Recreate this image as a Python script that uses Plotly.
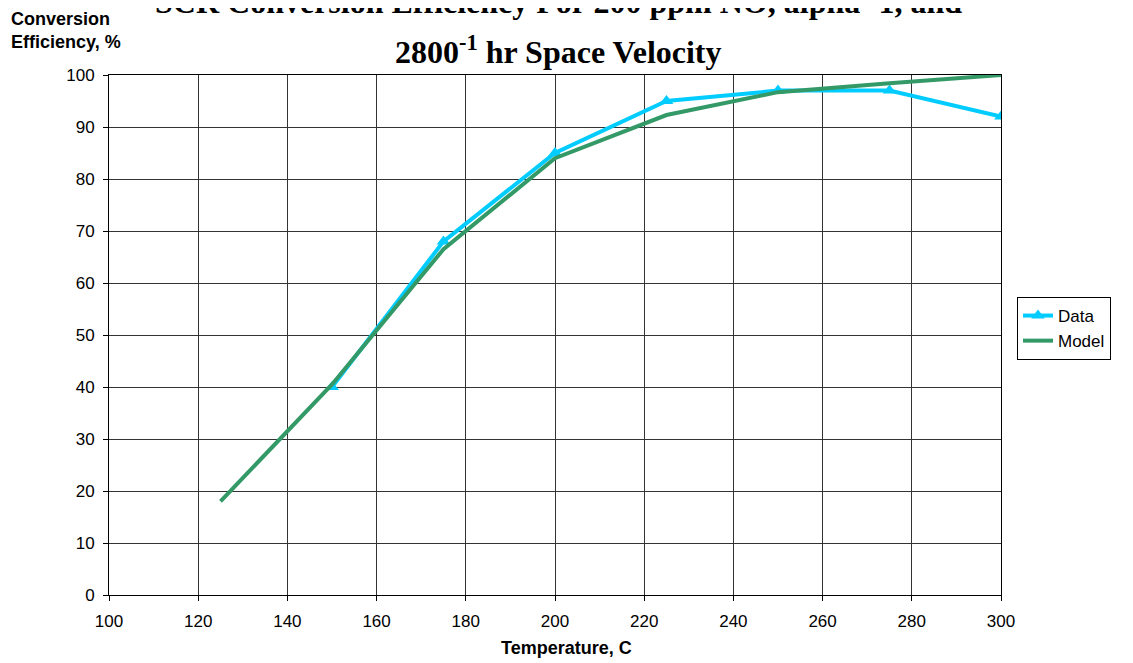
import plotly.graph_objects as go

data_x = [150, 175, 200, 225, 250, 275, 300]
data_y = [40, 68, 85, 95, 97, 97, 92]
model_x = [125, 150, 175, 200, 225, 250, 275, 300]
model_y = [18, 40.5, 66.5, 84, 92.3, 96.7, 98.4, 100]

x_ticks = list(range(100, 301, 20))
y_ticks = list(range(0, 101, 10))

# page offset (body margin) of 8px
OFF = 8
W, H = 1133 - OFF, 663 - OFF
L, R, T, B = 109 - OFF, 132, 75 - OFF, 68
PW, PH = 892, 520


def px(xp):
    return (xp - 109) / PW


def py(yp):
    return (595 - yp) / PH


fig = go.Figure()
fig.add_trace(go.Scatter(x=data_x, y=data_y, name="Data", mode="lines+markers",
                         line=dict(color="#00CCFF", width=4),
                         marker=dict(symbol="triangle-up", size=12, color="#00CCFF")))
fig.add_trace(go.Scatter(x=model_x, y=model_y, name="Model", mode="lines",
                         line=dict(color="#339966", width=4)))

axis_common = dict(showline=True, linecolor="black", linewidth=1, mirror=True,
                   showgrid=True, gridcolor="#333333", gridwidth=1, zeroline=False,
                   ticks="outside", ticklen=5, tickcolor="black",
                   tickfont=dict(family="Arial, Liberation Sans", size=17, color="black"))
fig.update_xaxes(range=[100, 300], tickvals=x_ticks, ticklabelstandoff=6, **axis_common)
fig.update_yaxes(range=[0, 100], tickvals=y_ticks, ticklabelstandoff=5, **axis_common)

fig.update_layout(
    width=W, height=H,
    margin=dict(l=L, r=R, t=T, b=B),
    plot_bgcolor="white", paper_bgcolor="white",
    showlegend=True,
    legend=dict(x=px(1017), y=py(297), xanchor="left", yanchor="top",
                bordercolor="black", borderwidth=1, bgcolor="white",
                font=dict(family="Arial, Liberation Sans", size=17, color="black"),
                tracegroupgap=0),
    annotations=[
        dict(text="<b>SCR Conversion Efficiency For 200 ppm NO, alpha=1, and</b>",
             xref="paper", yref="paper", x=px(558), y=py(2),
             xanchor="center", yanchor="middle", showarrow=False,
             font=dict(family="Times New Roman, Liberation Serif", size=32, color="black")),
        dict(text="<b>2800<sup>-1</sup> hr Space Velocity</b>",
             xref="paper", yref="paper", x=px(558), y=py(50),
             xanchor="center", yanchor="middle", showarrow=False,
             font=dict(family="Times New Roman, Liberation Serif", size=32, color="black")),
        dict(text="<b>Conversion<br>Efficiency, %</b>", xref="paper", yref="paper",
             x=px(9), y=py(7), xanchor="left", yanchor="top",
             align="left", showarrow=False,
             font=dict(family="Arial, Liberation Sans", size=18, color="black")),
        dict(text="<b>Temperature, C</b>", xref="paper", yref="paper",
             x=px(566), y=py(648), xanchor="center", yanchor="middle",
             showarrow=False,
             font=dict(family="Arial, Liberation Sans", size=18, color="black")),
    ],
)
fig.write_html("out.html")
